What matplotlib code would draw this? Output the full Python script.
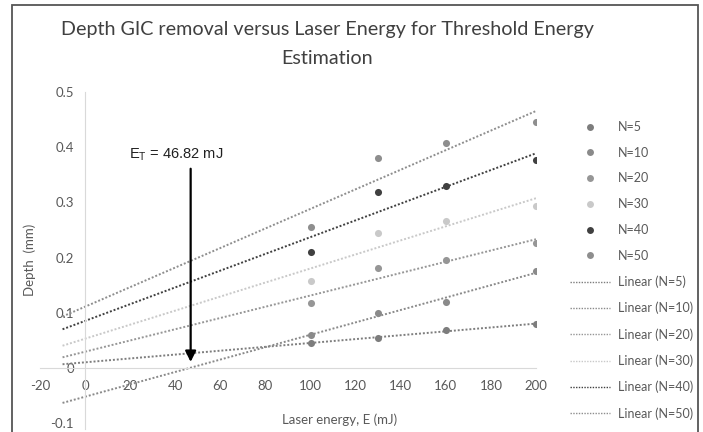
import numpy as np
import matplotlib.pyplot as plt
from matplotlib.lines import Line2D

plt.rcParams['font.family'] = ['Lato', 'DejaVu Sans']

# laser energy (mJ)
energy = [100, 130, 160, 200]

# depth of GIC removal (mm), one list per pulse count
n5 = [0.046, 0.054, 0.068, 0.080]
n10 = [0.060, 0.099, 0.119, 0.176]
n20 = [0.117, 0.181, 0.195, 0.226]
n30 = [0.158, 0.245, 0.266, 0.294]
n40 = [0.211, 0.319, 0.330, 0.377]
n50 = [0.256, 0.380, 0.408, 0.446]

labels = ['N=5', 'N=10', 'N=20', 'N=30', 'N=40', 'N=50']
series = [n5, n10, n20, n30, n40, n50]
colors = ['#7d7d7d', '#8a8a8a', '#969696', '#c9c9c9', '#404040', '#8e8e8e']

threshold = 46.82

fig = plt.figure(figsize=(7.03, 4.32), dpi=100)
ax = fig.add_axes([40/703, 1 - 428.7/432, 496/703, (428.7 - 92)/432])

xfit = np.array([-10, 200])
for ys, c in zip(series, colors):
    ax.scatter(energy, ys, s=26, color=c, zorder=3, linewidths=0)
    k, b = np.polyfit(energy, ys, 1)
    ax.plot(xfit, k * xfit + b, ls=(0, (1, 1)), lw=1.4, color=c, zorder=2)

ax.set_xlim(-20, 200)
ax.set_ylim(-0.11, 0.5)
ax.set_xticks(np.arange(-20, 201, 20))
ax.set_yticks(np.round(np.arange(-0.1, 0.51, 0.1), 1))
ax.xaxis.set_major_formatter(plt.FuncFormatter(lambda v, p: f'{v:g}'))
ax.yaxis.set_major_formatter(plt.FuncFormatter(lambda v, p: f'{v:g}'))

for s in ['top', 'right']:
    ax.spines[s].set_visible(False)
ax.spines['left'].set_position(('data', 0))
ax.spines['bottom'].set_position(('data', 0))
ax.spines['left'].set_color('#d9d9d9')
ax.spines['bottom'].set_color('#d9d9d9')
ax.tick_params(length=0, labelsize=9.5, colors='#595959')
ax.tick_params(axis='x', pad=9)
ax.tick_params(axis='y', pad=8)

# threshold arrow
ax.annotate('', xy=(threshold, 0.006), xytext=(threshold, 0.366),
            arrowprops=dict(arrowstyle='-|>', color='black', lw=1.6,
                            mutation_scale=16))
ax.text(40.5, 0.386, r'E$_\mathregular{T}$ = 46.82 mJ', ha='center', va='center',
        fontsize=10.5, family=['Liberation Sans', 'DejaVu Sans'], color='#202020')

fig.text(327/703, 1 - 30/432, 'Depth GIC removal versus Laser Energy for Threshold Energy',
         ha='center', va='center', fontsize=14.2, color='#404040')
fig.text(327/703, 1 - 58/432, 'Estimation', ha='center', va='center',
         fontsize=14.2, color='#404040')
fig.text(30/703, 1 - 260/432, 'Depth  (mm)', rotation=90, ha='center', va='center',
         fontsize=9.5, color='#595959')
fig.text(340/703, 1 - 420/432, 'Laser energy, E (mJ)', ha='center', va='center',
         fontsize=9.5, color='#595959')

handles = [Line2D([], [], ls='none', marker='o', ms=5, color=c, mec='none') for c in colors]
handles += [Line2D([], [], ls=(0, (1, 1)), lw=1.0, color=c) for c in colors]
names = labels + ['Linear (' + l + ')' for l in labels]
fig.legend(handles, names, loc='upper left', bbox_to_anchor=(570/703, 1 - 121/432),
           frameon=False, fontsize=9, labelcolor='#595959', handlelength=3.2,
           handletextpad=0.6, labelspacing=1.1, borderaxespad=0, borderpad=0)

fig.add_artist(plt.Rectangle((12/703, -0.05), 686/703, 1.05 - 5/432,
                             transform=fig.transFigure, fill=False,
                             edgecolor='#555555', lw=1.3))

fig.savefig('out.png', dpi=100)
